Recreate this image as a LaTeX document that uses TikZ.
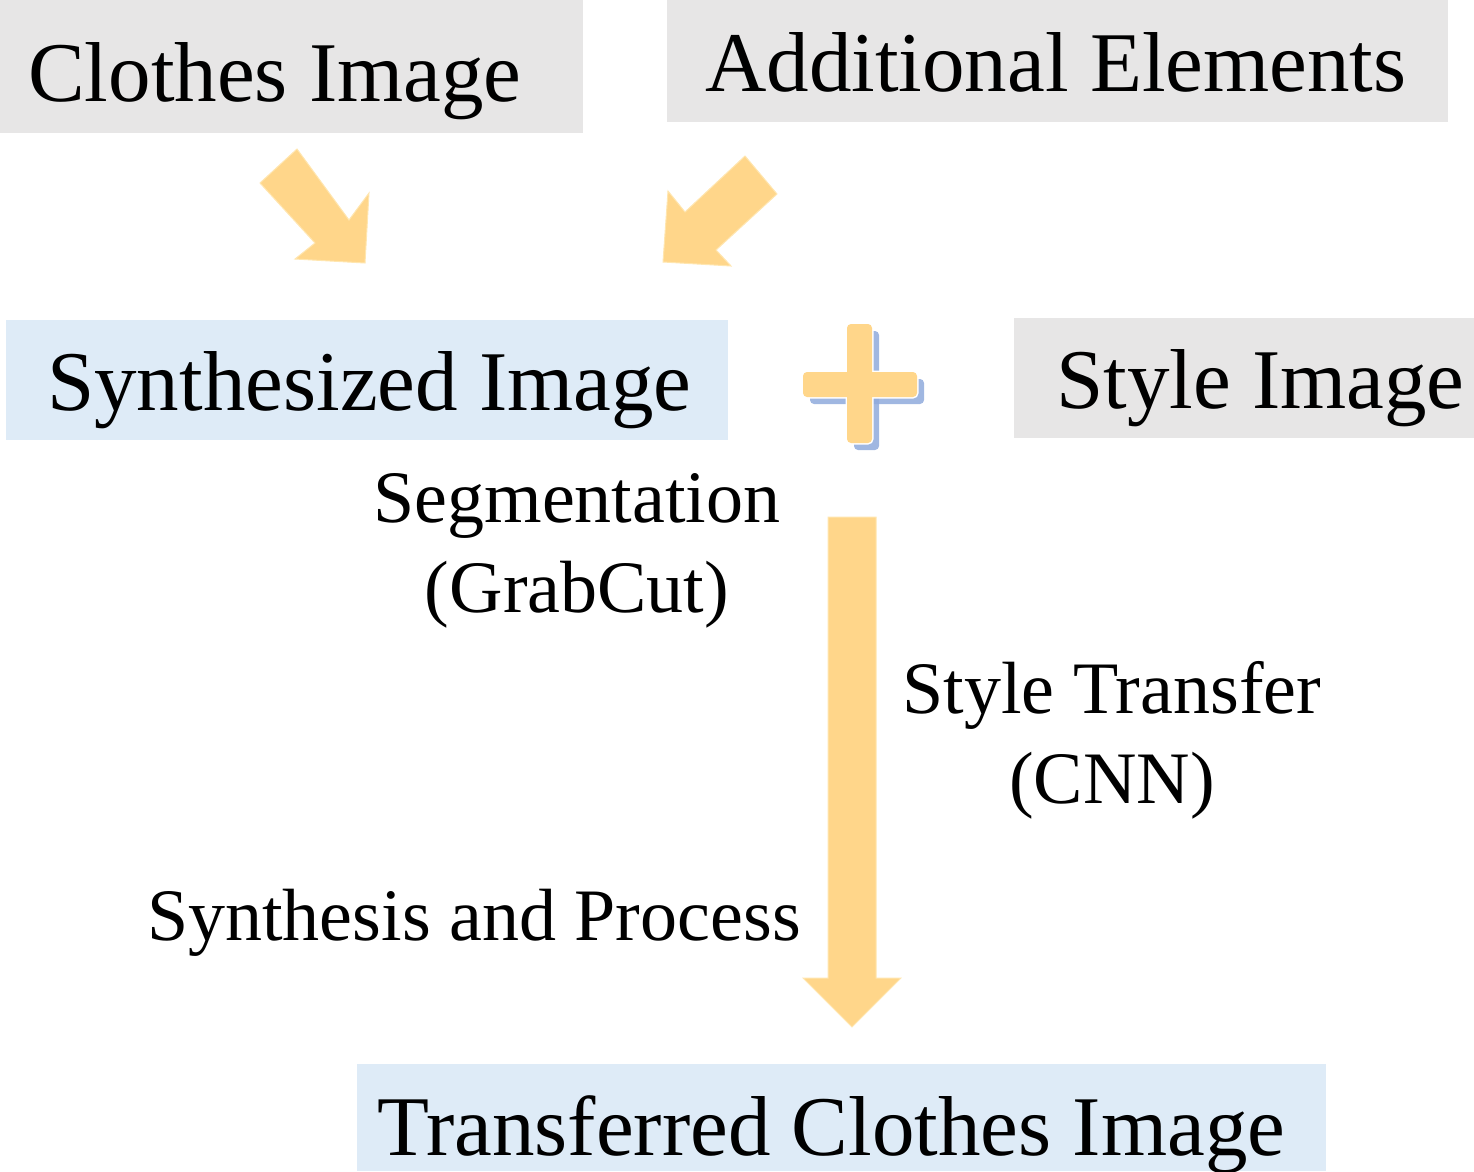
\documentclass[tikz,border=0pt]{standalone}
\usepackage{fontspec}
\setmainfont{Liberation Serif}
\definecolor{boxgray}{HTML}{E7E6E6}
\definecolor{boxblue}{HTML}{DEEBF7}
\definecolor{arrowc}{HTML}{FFD68A}
\definecolor{arrowedge}{HTML}{FFE6B0}
\definecolor{shadowc}{HTML}{8FAADC}
\begin{document}
\begin{tikzpicture}[x=1pt,y=-1pt,
  graybox/.style={fill=boxgray, draw=none, anchor=north west, inner sep=0pt},
  bluebox/.style={fill=boxblue, draw=none, anchor=north west, inner sep=0pt},
  bigtext/.style={font=\fontsize{85}{90}\selectfont, inner sep=0pt, anchor=base west},
  smalltext/.style={font=\fontsize{74}{90}\selectfont, inner sep=0pt, anchor=base},
  blockarrow/.style={fill=arrowc, draw=arrowedge, line width=1pt, line join=miter}
]
\useasboundingbox (0,0) rectangle (1474,1171);

% boxes
\node[graybox, minimum width=583pt, minimum height=133pt] (clothesbox) at (0,0) {};
\node[graybox, minimum width=781pt, minimum height=122pt] (addbox) at (667,0) {};
\node[bluebox, minimum width=722pt, minimum height=120pt] (synbox) at (6,320) {};
\node[graybox, minimum width=460pt, minimum height=120pt] (stylebox) at (1014,318) {};
\node[bluebox, minimum width=969pt, minimum height=107pt] (transbox) at (357,1064) {};

% box texts
\node[bigtext] (clothes) at (28,101) {Clothes Image};
\node[bigtext] (add) at (705,91) {Additional Elements};
\node[bigtext] (syn) at (47,410) {Synthesized Image};
\node[bigtext] (style) at (1056,408) {Style Image};
\node[bigtext] (trans) at (377,1155) {Transferred Clothes Image};

% labels
\node[smalltext] (seg1) at (577,522) {Segmentation};
\node[smalltext] (seg2) at (577,612) {(GrabCut)};
\node[smalltext] (st1) at (1112,713) {Style Transfer};
\node[smalltext] (st2) at (1112,803) {(CNN)};
\node[smalltext, anchor=base west] (synp) at (147,940) {Synthesis and Process};

% diagonal arrows
\draw[blockarrow] (260,183) -- (297,149) -- (349,220) -- (369,193) -- (365,263)
  -- (295,259) -- (315,243) -- cycle;
\draw[blockarrow] (745,156) -- (777,194) -- (716,250) -- (731,266) -- (663,262)
  -- (668,191) -- (685,212) -- cycle;

% vertical arrow
\draw[blockarrow] (828,517) -- (876,517) -- (876,978) -- (901,978) -- (852,1027)
  -- (803,978) -- (828,978) -- cycle;

% plus sign
\begin{scope}[shift={(7,7)}]
  \fill[shadowc, opacity=0.85, rounded corners=4pt] (847,324) rectangle (872,443);
  \fill[shadowc, opacity=0.85, rounded corners=4pt] (803,372) rectangle (917,397);
\end{scope}
\draw[white, line width=3pt, rounded corners=4pt] (847,324) rectangle (872,443);
\draw[white, line width=3pt, rounded corners=4pt] (803,372) rectangle (917,397);
\fill[arrowc, rounded corners=4pt] (847,324) rectangle (872,443);
\fill[arrowc, rounded corners=4pt] (803,372) rectangle (917,397);
\node[inner sep=0pt] (plus) at (860,384) {};
\end{tikzpicture}
\end{document}
